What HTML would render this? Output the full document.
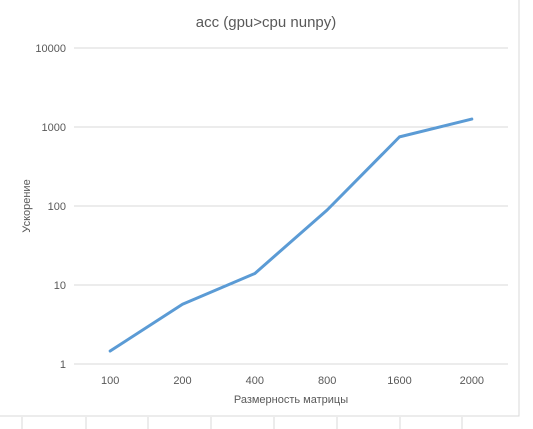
<!DOCTYPE html>
<html><head><meta charset="utf-8"><style>
html,body{margin:0;padding:0;background:#fff;width:533px;height:429px;overflow:hidden}
svg{display:block;font-family:"Liberation Sans","DejaVu Sans",sans-serif}
</style></head><body>
<svg id="c" width="533" height="429">
<rect x="-1" y="-1" width="520" height="417" fill="#fff" stroke="#d9d9d9"/>
<text x="266" y="27" text-anchor="middle" font-size="15" fill="#595959">acc (gpu&gt;cpu nunpy)</text>
<text x="401" y="404" text-anchor="middle" font-size="11" fill="#595959" display="none"></text>
<text x="291" y="403" text-anchor="middle" font-size="11" fill="#595959">Размерность матрицы</text>
<text transform="translate(30,206) rotate(-90)" text-anchor="middle" font-size="11" fill="#595959">Ускорение</text>
<g id="grid"></g><g id="ticks"></g><g id="series"></g>
</svg>
<script>
const categories=["100","200","400","800","1600","2000"];
const speedup=[1.46,5.7,14,89,750,1260];
const yTicks=[1,10,100,1000,10000];
const yTickLabels=["1","10","100","1000","10000"];
const NS="http://www.w3.org/2000/svg";
const X0=74,X1=508,Y0=364,Y1=48;
const xs=i=>X0+(X1-X0)/categories.length*(i+0.5);
const ys=v=>Y0-(Math.log10(v)-0)/4*(Y0-Y1);
function mk(t,a,p){const e=document.createElementNS(NS,t);for(const k in a)e.setAttribute(k,a[k]);p.appendChild(e);return e;}
const svg=document.getElementById('c');
const g=document.getElementById('grid'),tk=document.getElementById('ticks'),s=document.getElementById('series');
yTicks.forEach((v,i)=>{
 const l=mk('line',{x1:X0,x2:X1,y1:ys(v),y2:ys(v),stroke:'#d9d9d9','stroke-width':1},g);
 
 
 const t=mk('text',{x:66,y:ys(v)+4,'text-anchor':'end','font-size':11,fill:'#595959'},tk);
 t.textContent=yTickLabels[i];
 
 
});
categories.forEach((c,i)=>{
 const t=mk('text',{x:xs(i),y:384,'text-anchor':'middle','font-size':11,fill:'#595959'},tk);
 t.textContent=c;
 
 
});
const pl=mk('polyline',{points:speedup.map((v,i)=>xs(i)+','+ys(v)).join(' '),fill:'none',stroke:'#5b9bd5','stroke-width':3,'stroke-linejoin':'round','stroke-linecap':'round'},s);


[22,86,148,211,274,337,400,462].forEach(x=>{
 const l=mk('line',{x1:x,x2:x,y1:417,y2:429,stroke:'#d9d9d9'},svg);
 
 
});
</script>
</body></html>
